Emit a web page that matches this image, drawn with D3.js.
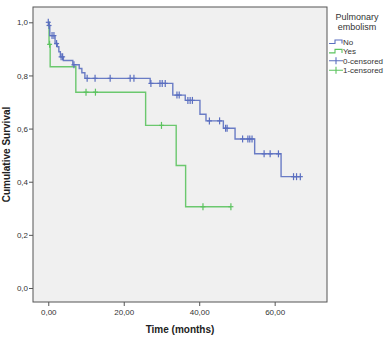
<!DOCTYPE html>
<html><head><meta charset="utf-8">
<script src="https://cdn.jsdelivr.net/npm/d3@7"></script>
<style>
html,body{margin:0;padding:0;background:#fff;}
svg{display:block;font-family:"Liberation Sans",Arial,sans-serif;}
</style></head>
<body><svg id="c" width="387" height="340"></svg>
<script>
// ---- data ----
const groups = ["No", "Yes"];
const noTimes = [0, 0.15, 0.4, 1.8, 2.4, 2.8, 3.2, 4.0, 6.5, 8.2, 8.9, 9.7, 27.0, 33.0, 36.3, 40.2, 41.8, 46.4, 49.5, 54.7, 61.7];
const noSurv  = [1.0, 0.988, 0.95, 0.92, 0.908, 0.889, 0.87, 0.856, 0.84, 0.826, 0.81, 0.789, 0.770, 0.726, 0.706, 0.654, 0.629, 0.601, 0.561, 0.505, 0.419];
const noEnd = 66.8;
const noCensored = [0.0, 0.2, 1.0, 1.5, 2.2, 3.4, 3.8, 6.8, 10.3, 12.4, 16.4, 21.7, 22.7, 27.2, 29.6, 30.2, 31.0, 34.1, 34.7, 37.0, 37.6, 38.2, 42.7, 45.4, 47.0, 47.4, 51.5, 52.9, 53.4, 54.0, 57.2, 58.8, 61.0, 65.0, 65.8, 66.8];
const yesTimes = [0, 0.2, 0.5, 7.3, 25.8, 33.9, 36.4];
const yesSurv  = [1.0, 0.917, 0.833, 0.737, 0.612, 0.461, 0.306];
const yesEnd = 48.4;
const yesCensored = [0.35, 10.0, 12.5, 30.0, 41.0, 48.4];
const xTicks = [0, 20, 40, 60];
const yTicks = [0, 0.2, 0.4, 0.6, 0.8, 1.0];
const legendTitle = ["Pulmonary", "embolism"];
const legendItems = ["No", "Yes", "0-censored", "1-censored"];

// ---- layout ----
const L = 33, R = 327, T = 7, B = 302;
const blue = "#5b6fc0", green = "#5cc35f";
const svg = d3.select("#c");
const x = d3.scaleLinear().domain([-4.05, 73.87]).range([L, R]);
const y = d3.scaleLinear().domain([-0.0527, 1.0576]).range([B, T]);

svg.append("rect").attr("x", L).attr("y", T).attr("width", R - L).attr("height", B - T)
  .attr("fill", "#f0f0f0").attr("stroke", "#555").attr("stroke-width", 1);

const fmtY = v => d3.format(".1f")(v).replace(".", ",");
const fmtX = v => d3.format(".2f")(v).replace(".", ",");

const gy = svg.append("g").attr("transform", `translate(${L},0)`)
  .call(d3.axisLeft(y).tickValues(yTicks).tickFormat(fmtY).tickSize(4).tickSizeOuter(0));
const gx = svg.append("g").attr("transform", `translate(0,${B})`)
  .call(d3.axisBottom(x).tickValues(xTicks).tickFormat(fmtX).tickSize(4).tickSizeOuter(0));
[gy, gx].forEach(g => {
  g.select(".domain").remove();
  g.selectAll(".tick line").attr("stroke", "#555");
  g.selectAll(".tick text").attr("fill", "#333").style("font-size", "8px").style("font-family", "'Liberation Sans',Arial,sans-serif");
});
gy.selectAll(".tick text").attr("x", -5);
gx.selectAll(".tick text").attr("y", 7);

// axis titles
svg.append("text").attr("x", (L + R) / 2).attr("y", 333).attr("text-anchor", "middle")
  .style("font-size", "10px").style("font-weight", "bold").attr("fill", "#222").text("Time (months)");
svg.append("text").attr("transform", `translate(10,${(T + B) / 2}) rotate(-90)`).attr("text-anchor", "middle")
  .style("font-size", "10px").style("font-weight", "bold").attr("fill", "#222").text("Cumulative Survival");

// ---- curves ----
function stepPts(times, surv, end) {
  const pts = times.map((t, i) => [t, surv[i]]);
  pts.push([end, surv[surv.length - 1]]);
  return pts;
}
function survAt(times, surv, t) {
  let s = surv[0];
  for (let i = 0; i < times.length; i++) if (times[i] <= t) s = surv[i];
  return s;
}
const line = d3.line().x(d => x(d[0])).y(d => y(d[1])).curve(d3.curveStepAfter);
const series = [
  { times: noTimes, surv: noSurv, end: noEnd, cens: noCensored, color: blue },
  { times: yesTimes, surv: yesSurv, end: yesEnd, cens: yesCensored, color: green }
];
series.slice().reverse().forEach(s => {
  svg.append("path").datum(stepPts(s.times, s.surv, s.end)).attr("d", line)
    .attr("fill", "none").attr("stroke", s.color).attr("stroke-width", 1.4).attr("stroke-opacity", 0.9);
});
series.forEach(s => {
  const g = svg.append("g").attr("stroke", s.color).attr("stroke-width", 1.2);
  s.cens.forEach(t => {
    const cx = x(t), cy = y(survAt(s.times, s.surv, t));
    g.append("line").attr("x1", cx).attr("x2", cx).attr("y1", cy - 3.5).attr("y2", cy + 3.5);
    g.append("line").attr("x1", cx - 2.5).attr("x2", cx + 2.5).attr("y1", cy).attr("y2", cy);
  });
});

// ---- legend ----
const lg = svg.append("g");
legendTitle.forEach((t, i) => {
  lg.append("text").attr("x", 357).attr("y", 20 + i * 10).attr("text-anchor", "middle")
    .style("font-size", "9px").attr("fill", "#333").text(t);
});
const legColors = [blue, green, blue, green];
legendItems.forEach((t, i) => {
  const yy = 42 + i * 9.4;
  const c = legColors[i];
  if (i < 2) {
    lg.append("path").attr("d", `M329,${yy + 1.5}H335V${yy - 2}H342V${yy + 1.5}`)
      .attr("fill", "none").attr("stroke", c).attr("stroke-width", 1.1);
  } else {
    lg.append("path").attr("d", `M329,${yy}H343M336,${yy - 3.5}V${yy + 3.5}`)
      .attr("fill", "none").attr("stroke", c).attr("stroke-width", 1.1);
  }
  lg.append("text").attr("x", 343).attr("y", yy + 3).style("font-size", "8px").attr("fill", "#333").text(t);
});
</script></body></html>
